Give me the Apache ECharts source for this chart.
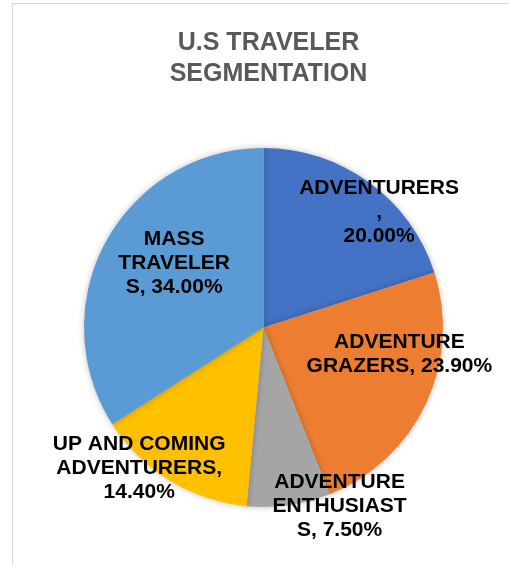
<!DOCTYPE html>
<html>
<head>
<meta charset="utf-8">
<script src="https://cdn.jsdelivr.net/npm/echarts@6/dist/echarts.min.js"></script>
<style>
html,body{margin:0;padding:0;background:#fff;}
#chart{width:509px;height:565px;}
</style>
</head>
<body>
<div id="chart"></div>
<script>
// ---- data ----
var titleText = "U.S TRAVELER\nSEGMENTATION";
var categories = ["ADVENTURERS", "ADVENTURE GRAZERS", "ADVENTURE ENTHUSIASTS", "UP AND COMING ADVENTURERS", "MASS TRAVELERS"];
var values = [20.0, 23.9, 7.5, 14.4, 34.0];
// label line-wrapping templates ({v} = value)
var labelWraps = [
  "ADVENTURERS\n,\n{v}",
  "ADVENTURE\nGRAZERS, {v}",
  "ADVENTURE\nENTHUSIAST\nS, {v}",
  "UP AND COMING\nADVENTURERS,\n{v}",
  "MASS\nTRAVELER\nS, {v}"
];
var colors = ["#4472C4", "#ED7D31", "#A5A5A5", "#FFC000", "#5B9BD5"];
// label offsets from default inside position (layout only)
var labelShift = [[61, -40], [52, -13], [63, 87], [-76, 62], [-8, -20]];

var chart = echarts.init(document.getElementById('chart'), null, {renderer: 'canvas'});
var option = {
  backgroundColor: '#ffffff',
  animation: false,
  title: {
    text: titleText,
    left: 263.5,
    top: 23,
    textAlign: 'center',
    textStyle: {
      fontFamily: 'Liberation Sans, Arial, sans-serif',
      fontSize: 25,
      fontWeight: 'bold',
      color: '#595959',
      lineHeight: 31
    }
  },
  graphic: [{
    type: 'rect',
    shape: {x: 12.5, y: 3.5, width: 600, height: 700},
    style: {fill: 'none', stroke: '#d9d9d9', lineWidth: 1},
    silent: true,
    z: -1
  }],
  series: [{
    type: 'pie',
    center: [263.5, 327.5],
    radius: [0, 179.5],
    startAngle: 90,
    clockwise: true,
    avoidLabelOverlap: false,
    itemStyle: {
      shadowBlur: 6,
      shadowColor: 'rgba(0,0,0,0.25)'
    },
    label: {
      show: true,
      position: 'inside',
      fontFamily: 'Liberation Sans, Arial, sans-serif',
      fontSize: 21,
      fontWeight: 'bold',
      color: '#000000',
      lineHeight: 24,
      align: 'center',
      formatter: function (p) {
        return labelWraps[p.dataIndex].replace('{v}', values[p.dataIndex].toFixed(2) + '%');
      }
    },
    labelLine: {show: false},
    labelLayout: function (p) {
      var s = labelShift[p.dataIndex];
      return {dx: s[0], dy: s[1]};
    },
    emphasis: {disabled: true},
    data: categories.map(function (c, i) {
      return {name: c, value: values[i], itemStyle: {color: colors[i]}};
    })
  }]
};
chart.setOption(option);
</script>
</body>
</html>
